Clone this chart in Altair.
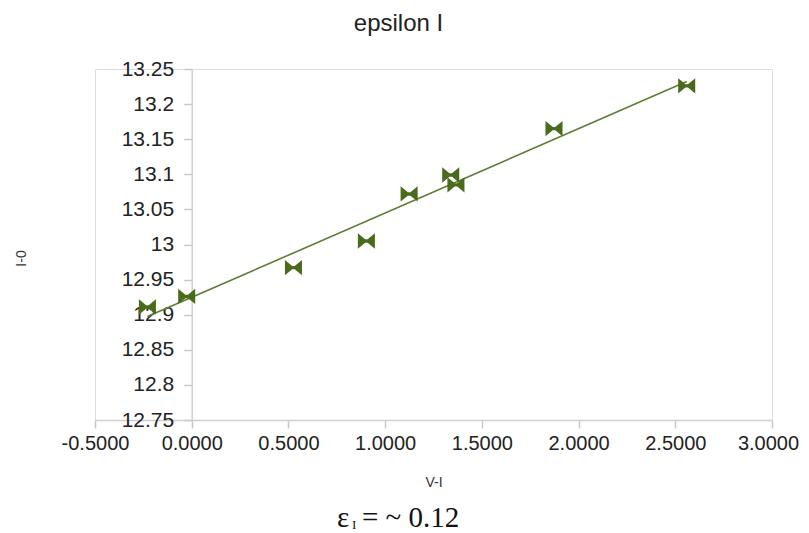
import altair as alt
import pandas as pd

# data
v_minus_i = [-0.229, -0.026, 0.526, 0.903, 1.124, 1.339, 1.366, 1.873, 2.559]
i_minus_0 = [12.911, 12.926, 12.967, 13.005, 13.072, 13.099, 13.085, 13.165, 13.226]
x_ticks = [-0.5, 0, 0.5, 1, 1.5, 2, 2.5, 3]
y_ticks = [12.75, 12.8, 12.85, 12.9, 12.95, 13.0, 13.05, 13.1, 13.15, 13.2, 13.25]

df = pd.DataFrame({"x": v_minus_i, "y": i_minus_0})

W, H = 677, 351
XMIN, XMAX = -0.5, 3.0
YMIN, YMAX = 12.75, 13.25
zero_px = W * (0 - XMIN) / (XMAX - XMIN)

MARK = "#4a6b1c"
LINE = "#5e7d33"
FONT = "Liberation Sans"

bowtie = "M-1,-0.9L-0.15,-0.2L0.15,-0.2L1,-0.9L1,0.9L0.15,0.2L-0.15,0.2L-1,0.9Z"

xs = alt.Scale(domain=[XMIN, XMAX], nice=False, zero=False)
ys = alt.Scale(domain=[YMIN, YMAX], nice=False, zero=False)

x_axis = alt.Axis(
    title="V-I", values=x_ticks,
    labelExpr="replace(format(datum.value, '.4f'), '\u2212', '-')",
    grid=False, domainColor="#d0d0d0", domainWidth=1.5, tickColor="#c8c8c8",
    tickWidth=1.5, tickSize=8, labelFont=FONT, labelFontSize=20, labelColor="#222222",
    labelPadding=5, labelOverlap=False, labelFlush=False,
    labelOffset={"condition": {"test": "datum.value >= 3", "value": -4}, "value": 0},
    titleFont=FONT, titleFontSize=14, titleFontWeight="normal",
    titleColor="#333333", titlePadding=22,
)
y_axis = alt.Axis(
    title="I-0", values=y_ticks,
    format=".4~g", grid=False, offset=-zero_px, domainColor="#d0d0d0", domainWidth=1.5,
    tickColor="#c8c8c8", tickWidth=1.5, tickSize=8, labelFont=FONT, labelFontSize=21,
    labelColor="#222222", labelPadding=10, labelOverlap=False, labelFlush=False,
    titleFont=FONT, titleFontSize=14,
    titleFontWeight="normal", titleColor="#333333", titleX=-170, titleY=189,
    titleAngle=270, titleAlign="center", titleBaseline="middle",
)

enc_x = alt.X("x:Q", scale=xs, axis=x_axis)
enc_y = alt.Y("y:Q", scale=ys, axis=y_axis)

base = alt.Chart(df)

trend = base.transform_regression("x", "y").mark_line(color=LINE, strokeWidth=1.6).encode(
    x=enc_x, y=enc_y,
)

points = base.mark_point(shape=bowtie, filled=True, size=290, opacity=1, color=MARK).encode(
    x=enc_x, y=enc_y,
)

eps = alt.Chart(pd.DataFrame({"t": ["ε"]})).mark_text(
    font="Liberation Serif", fontSize=29, align="left", baseline="alphabetic", color="#111111"
).encode(text="t:N", x=alt.value(337 - 95), y=alt.value(527 - 69))
sub = alt.Chart(pd.DataFrame({"t": ["I"]})).mark_text(
    font="Liberation Serif", fontSize=13, align="left", baseline="alphabetic", color="#111111"
).encode(text="t:N", x=alt.value(352 - 95), y=alt.value(529 - 69))
rest = alt.Chart(pd.DataFrame({"t": ["= ~ 0.12"]})).mark_text(
    font="Liberation Serif", fontSize=29, align="left", baseline="alphabetic", color="#111111"
).encode(text="t:N", x=alt.value(362 - 95), y=alt.value(527 - 69))

chart = alt.layer(trend, points, eps, sub, rest).properties(
    width=W, height=H,
    title=alt.TitleParams(
        "epsilon I", font=FONT, fontSize=24, fontWeight="normal", color="#222222",
        anchor="middle", dx=-35, offset=22,
    ),
    padding={"left": 87, "top": 61, "right": 29, "bottom": 112},
    autosize=alt.AutoSizeParams(type="none"),
).configure_view(stroke="#d0d0d0", strokeWidth=1.5).configure(background="white")

chart.save("out.html", embed_options={"renderer": "svg", "actions": False})
